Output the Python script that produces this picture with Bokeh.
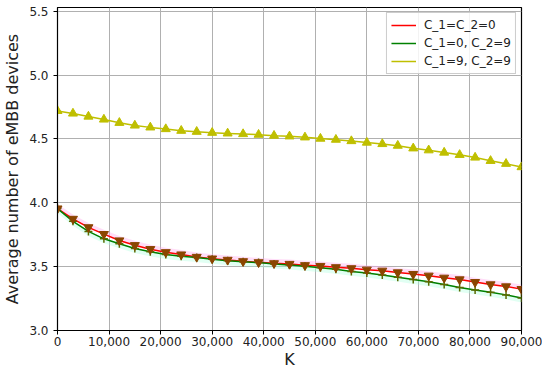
from bokeh.plotting import figure
from bokeh.models import Range1d, NumeralTickFormatter, Legend, LegendItem, FixedTicker
from bokeh.embed import file_html
from bokeh.resources import INLINE

K = [0, 3000, 6000, 9000, 12000, 15000, 18000, 21000, 24000, 27000, 30000,
     33000, 36000, 39000, 42000, 45000, 48000, 51000, 54000, 57000, 60000,
     63000, 66000, 69000, 72000, 75000, 78000, 81000, 84000, 87000, 90000]

c00 = [3.955, 3.874, 3.808, 3.755, 3.705, 3.668, 3.637, 3.613, 3.595, 3.576, 3.563,
       3.553, 3.542, 3.534, 3.526, 3.521, 3.511, 3.505, 3.495, 3.487, 3.476,
       3.468, 3.455, 3.442, 3.429, 3.413, 3.400, 3.379, 3.361, 3.345, 3.324]

c09 = [3.955, 3.855, 3.776, 3.718, 3.679, 3.642, 3.616, 3.595, 3.582, 3.571, 3.558,
       3.547, 3.539, 3.532, 3.521, 3.513, 3.503, 3.492, 3.479, 3.463, 3.450,
       3.434, 3.418, 3.400, 3.382, 3.361, 3.337, 3.318, 3.300, 3.279, 3.255]

c99 = [4.720, 4.700, 4.676, 4.653, 4.627, 4.606, 4.591, 4.578, 4.565, 4.557, 4.549,
       4.544, 4.539, 4.534, 4.526, 4.521, 4.513, 4.503, 4.495, 4.484, 4.472,
       4.461, 4.448, 4.427, 4.412, 4.394, 4.376, 4.355, 4.329, 4.306, 4.280]

band_hi = 0.035  # spread of the shaded bands
band_lo = 0.005

labels = ["C_1=C_2=0", "C_1=0, C_2=9", "C_1=9, C_2=9"]
x_ticks = [0, 10000, 20000, 30000, 40000, 50000, 60000, 70000, 80000, 90000]
y_ticks = [3.0, 3.5, 4.0, 4.5, 5.0, 5.5]

FONT = "DejaVu Sans"
TXT = "#222222"

p = figure(width=542, height=372, output_backend="svg", toolbar_location=None,
           x_range=Range1d(0, 90000), y_range=Range1d(3.0, 5.53),
           min_border_top=7, min_border_right=21, min_border_left=57, min_border_bottom=42)

p.outline_line_color = "black"
p.outline_line_width = 1.2
p.background_fill_color = "white"
p.border_fill_color = "white"

# shaded bands
p.varea(x=K, y1=[v - band_lo for v in c00], y2=[v + band_hi for v in c00],
        fill_color="#ffaaee", fill_alpha=0.4)
p.varea(x=K, y1=[v - band_hi for v in c09], y2=[v + band_lo for v in c09],
        fill_color="#aaffdd", fill_alpha=0.35)

r1 = p.line(K, c00, line_color="#ff0000", line_width=1.5)
r2 = p.line(K, c09, line_color="#008000", line_width=1.5)
r3 = p.line(K, c99, line_color="#bfbf00", line_width=1.5)

p.scatter(K, c09, marker="cross", size=8, line_color="#5a6a00", line_width=1.5)
p.scatter(K, c00, marker="inverted_triangle", size=9, fill_color="#8b4500",
          line_color="#8b4500")
p.scatter(K, c99, marker="triangle", size=9, fill_color="#bfbf00", line_color="#bfbf00")

for ax in (p.xaxis[0], p.yaxis[0]):
    ax.major_label_text_font = FONT
    ax.major_label_text_font_size = "12px"
    ax.major_label_text_color = TXT
    ax.axis_label_text_font = FONT
    ax.axis_label_text_font_size = "16px"
    ax.axis_label_text_font_style = "normal"
    ax.axis_label_text_color = TXT
    ax.major_tick_in = 0
    ax.major_tick_out = 4
    ax.minor_tick_line_color = None
    ax.axis_line_color = "black"
    ax.major_tick_line_color = "black"

p.xaxis.ticker = FixedTicker(ticks=x_ticks)
p.yaxis.ticker = FixedTicker(ticks=y_ticks)
p.xaxis.formatter = NumeralTickFormatter(format="0,0")
p.yaxis.formatter = NumeralTickFormatter(format="0.0")
p.xaxis.axis_label = "K"
p.yaxis.axis_label = "Average number of eMBB devices"
p.xaxis.major_label_standoff = 2
p.xaxis.axis_label_standoff = 1
p.yaxis.major_label_standoff = 5
p.yaxis.axis_label_standoff = 4

p.grid.grid_line_color = "#b0b0b0"
p.grid.grid_line_width = 1

legend = Legend(items=[LegendItem(label=labels[0], renderers=[r1]),
                       LegendItem(label=labels[1], renderers=[r2]),
                       LegendItem(label=labels[2], renderers=[r3])],
                location="top_right")
legend.label_text_font = FONT
legend.label_text_font_size = "12px"
legend.label_text_color = TXT
legend.border_line_color = "#cccccc"
legend.border_line_alpha = 1
legend.background_fill_alpha = 0.85
legend.glyph_width = 25
legend.label_height = 16
legend.glyph_height = 16
legend.spacing = 2
legend.padding = 4
legend.margin = 5
legend.label_standoff = 8
p.add_layout(legend)

open("out.html", "w").write(file_html(p, INLINE))
